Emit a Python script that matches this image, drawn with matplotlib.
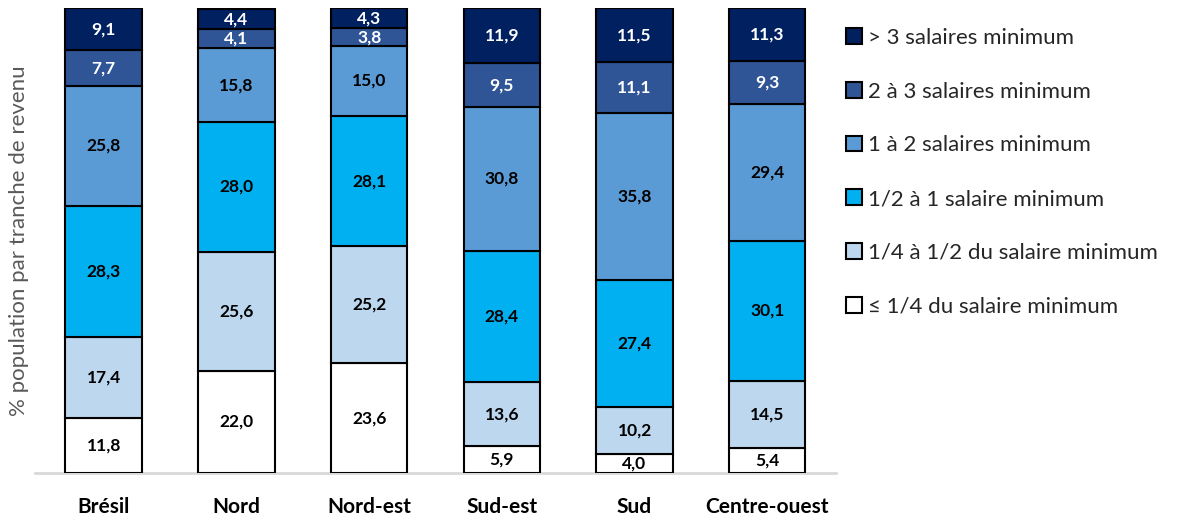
import matplotlib
matplotlib.use('Agg')
import matplotlib.pyplot as plt
import numpy as np
from matplotlib.patches import Patch

plt.rcParams['font.family'] = ['Lato', 'DejaVu Sans']

# Données (% de la population par tranche de revenu)
regions = ["Brésil", "Nord", "Nord-est", "Sud-est", "Sud", "Centre-ouest"]
tranches = ["≤ 1/4 du salaire minimum", "1/4 à 1/2 du salaire minimum",
            "1/2 à 1 salaire minimum", "1 à 2 salaires minimum",
            "2 à 3 salaires minimum", "> 3 salaires minimum"]
quart = [11.8, 22.0, 23.6, 5.9, 4.0, 5.4]
quart_demi = [17.4, 25.6, 25.2, 13.6, 10.2, 14.5]
demi_un = [28.3, 28.0, 28.1, 28.4, 27.4, 30.1]
un_deux = [25.8, 15.8, 15.0, 30.8, 35.8, 29.4]
deux_trois = [7.7, 4.1, 3.8, 9.5, 11.1, 9.3]
plus_trois = [9.1, 4.4, 4.3, 11.9, 11.5, 11.3]

series = [quart, quart_demi, demi_un, un_deux, deux_trois, plus_trois]
colors = ["#FFFFFF", "#BDD7EE", "#00B0F0", "#5B9BD5", "#2F5597", "#002060"]
txt_colors = ["black", "black", "black", "black", "white", "white"]

fig = plt.figure(figsize=(11.93, 5.17), dpi=100)
ax = fig.add_axes([0.029, 0.085, 0.672, 0.8995])

x = np.arange(len(regions))
bottom = np.zeros(len(regions))
for vals, col, tc in zip(series, colors, txt_colors):
    vals = np.array(vals)
    ax.bar(x, vals, 0.575, bottom=bottom, color=col, edgecolor="black", linewidth=1.5, zorder=3)
    for xi, b, v in zip(x, bottom, vals):
        ax.text(xi, b + v / 2, f"{v:.1f}".replace(".", ","), ha="center", va="center",
                fontsize=12.5, fontweight="bold", color=tc, zorder=4)
    bottom += vals

ax.set_xlim(-0.52, 5.52)
ax.set_ylim(0, 100.1)
ax.set_xticks(x)
ax.set_xticklabels(regions, fontsize=15, fontweight="bold")
ax.tick_params(axis="x", length=0, pad=17)
ax.set_yticks([])
for s in ["top", "right", "left"]:
    ax.spines[s].set_visible(False)
ax.spines["bottom"].set_color("#D9D9D9")
ax.spines["bottom"].set_linewidth(2)
ax.set_ylabel("% population par tranche de revenu", fontsize=16, color="#595959", labelpad=4)

handles = [Patch(facecolor=c, edgecolor="black", linewidth=1.5) for c in colors]
fig.legend(handles[::-1], tranches[::-1], loc="upper left", bbox_to_anchor=(0.692, 0.985),
           frameon=False, fontsize=16, labelspacing=1.52, handlelength=0.72,
           handleheight=0.72, handletextpad=0.3, labelcolor="#262626")

plt.savefig("out.png", dpi=100)
